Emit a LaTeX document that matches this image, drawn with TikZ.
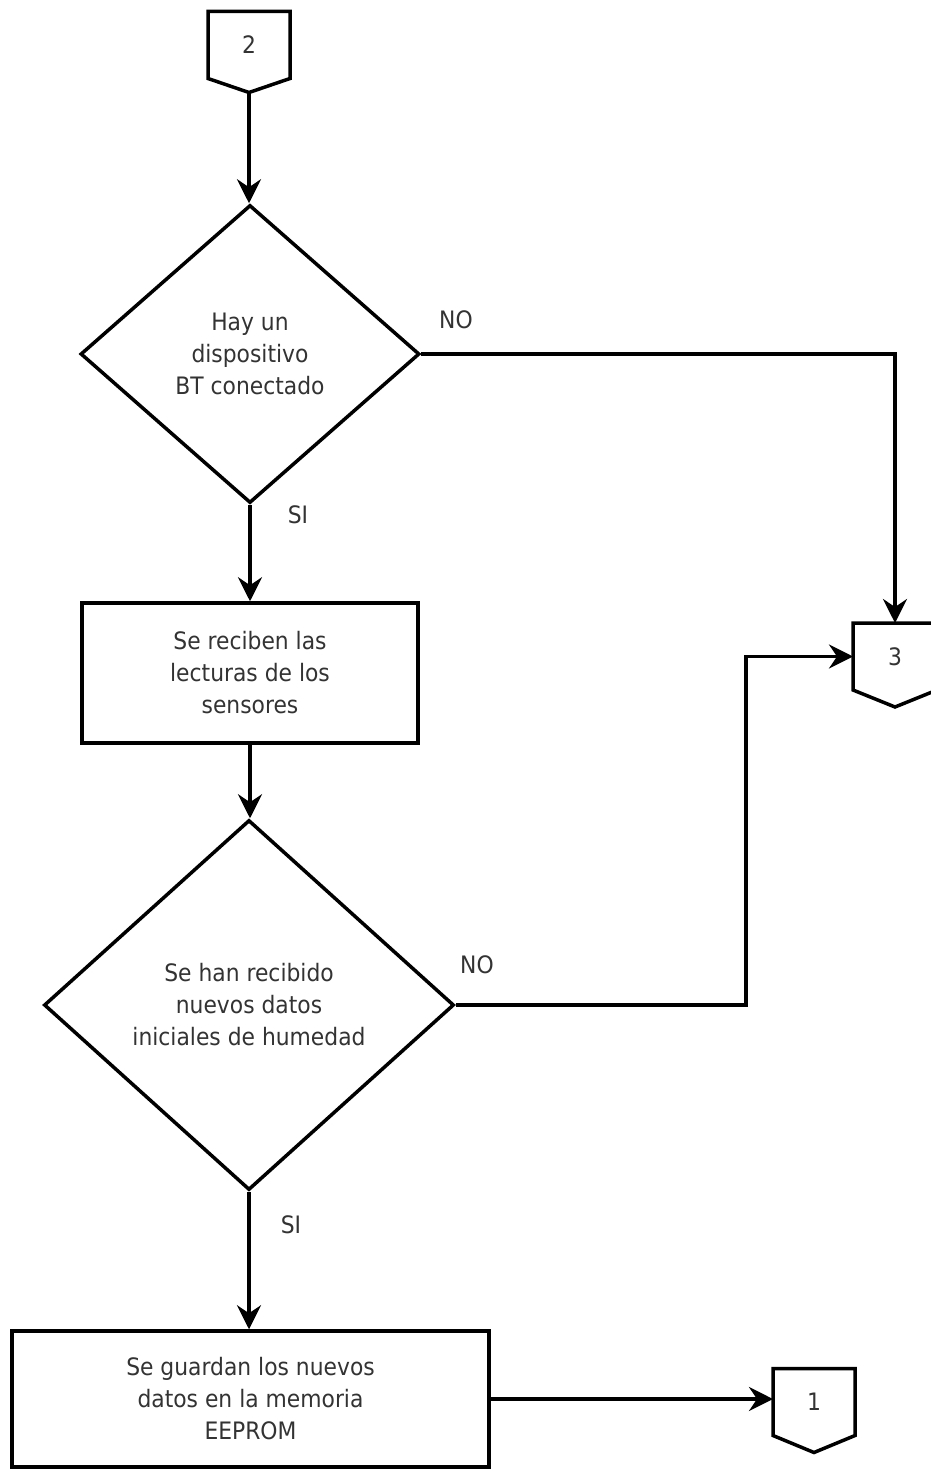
\documentclass[tikz,border=0pt]{standalone}
\usepackage{fontspec}
\setmainfont{DejaVu Sans}[FakeStretch=0.91]
\usetikzlibrary{shapes.geometric,arrows.meta,calc}
\definecolor{ink}{HTML}{333333}

% off-page connector: box with a pointed bottom
\newcommand\offpageshape[2]{%
  \draw[line width=3.5pt, line join=miter]
    (#1.north west) -- (#1.north east) -- (#1.south east)
    -- ($(#1.south)+(0,#2)$) -- (#1.south west) -- cycle;}

\begin{document}
\begin{tikzpicture}[x=1pt,y=-1pt,
  every node/.style={font=\fontsize{24}{32}\selectfont, text=ink},
  flow/.style={line width=3.5pt, -{Stealth[length=24pt,width=24pt,inset=8pt]}},
  decision/.style={diamond, draw, line width=3.5pt, inner sep=0pt, align=center},
  process/.style={rectangle, draw, line width=3.5pt, inner sep=0pt, align=center},
  offpage/.style={rectangle, inner sep=0pt, outer sep=0pt,
                  minimum width=82pt, minimum height=67pt},
  lbl/.style={inner sep=0pt}
]
\useasboundingbox (0,0) rectangle (930,1471);
\fill[white] (0,0) rectangle (930,1471);

% connectors
\node[offpage] (c2) at (249,45) {2};
\offpageshape{c2}{14}
\coordinate (c2tip) at ($(c2.south)+(0,14)$);
\node[offpage, minimum width=84pt] (c3) at (895,656.5) {3};
\offpageshape{c3}{17}
\node[offpage] (c1) at (814,1402) {1};
\offpageshape{c1}{17}

% decisions and steps
\node[decision, minimum width=339pt, minimum height=298pt] (d1) at (250,354)
  {Hay un\\dispositivo\\BT conectado};
\node[process, minimum width=336pt, minimum height=140pt] (r1) at (250,673)
  {Se reciben las\\lecturas de los\\sensores};
\node[decision, minimum width=410pt, minimum height=370pt] (d2) at (249,1005)
  {Se han recibido\\nuevos datos\\iniciales de humedad};
\node[process, minimum width=477pt, minimum height=136pt] (r2) at (250.5,1399)
  {Se guardan los nuevos\\datos en la memoria\\EEPROM};

% branch labels
\node[lbl] (no1) at (456,320) {NO};
\node[lbl] (si1) at (298,515) {SI};
\node[lbl] (no2) at (477,965) {NO};
\node[lbl] (si2) at (291,1225) {SI};

% flow lines
\coordinate (j2) at (746,1005);
\draw[flow] (c2tip) -- (c2tip |- d1.north);
\draw[flow] (d1.east) -| (c3.north);
\draw[flow] (d1.south) -- (r1.north);
\draw[flow] (r1.south) -- (r1.south |- d2.north);
\draw[flow] (d2.east) -- (j2) |- (c3.west);
\draw[flow] (d2.south) -- (d2.south |- r2.north);
\draw[flow] (r2.east) -- (r2.east -| c1.west);
\end{tikzpicture}
\end{document}
